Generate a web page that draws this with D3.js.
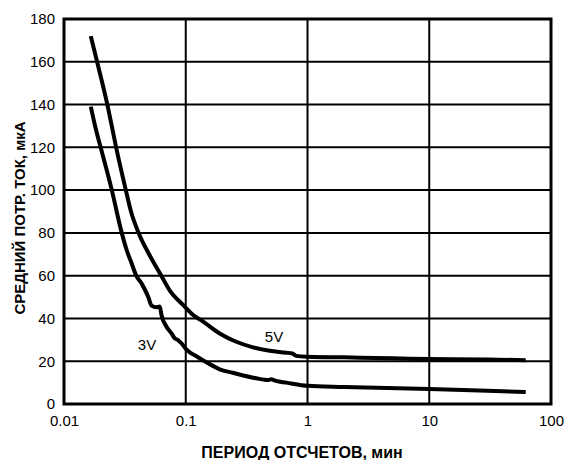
<!DOCTYPE html>
<html><head><meta charset="utf-8">
<script src="https://cdn.jsdelivr.net/npm/d3@7"></script>
<style>body{margin:0;background:#fff}svg{display:block}text{font-family:"Liberation Sans",Arial,sans-serif}</style>
</head><body><svg id="c" width="565" height="460"></svg>
<script>
const xTicks = [0.01, 0.1, 1, 10, 100];
const xTickLabels = ["0.01", "0.1", "1", "10", "100"];
const yTicks = [0, 20, 40, 60, 80, 100, 120, 140, 160, 180];
const seriesNames = ["5V", "3V"];
const x5V = [0.0166,0.0187,0.0227,0.0268,0.0322,0.0355,0.041,0.05,0.063,0.074,0.095,0.115,0.139,0.19,0.26,0.357,0.489,0.668,0.75,0.807,1,2,5,10,30,62];
const y5V = [172,160,140,120,100,90,80,70,60,53,46.3,41.6,38.5,33,29.1,26.5,24.9,24,23.6,22.5,22.1,21.8,21.4,21,20.8,20.5];
const x3V = [0.0166,0.018,0.020,0.0247,0.0298,0.0327,0.0359,0.0392,0.0433,0.0491,0.0524,0.0575,0.0612,0.0632,0.0695,0.0764,0.0813,0.0865,0.0922,0.101,0.125,0.148,0.19,0.243,0.38,0.48,0.5,0.55,0.67,1,2,10,30,62];
const y3V = [139,130,120,100,80,72,65.8,60,56.4,50.2,46,45.2,45.6,41.6,36.1,33,30.7,29.9,28.4,25.5,22,19.5,16.2,14.6,12,11.2,11.6,10.8,10,8.5,8,7,6.2,5.6];

const svg = d3.select("#c");
const L = 64, R = 551, T = 19, B = 404;
const x = d3.scaleLog().domain([0.01, 100]).range([L, R]);
const y = d3.scaleLinear().domain([0, 180]).range([B, T]);

// grid
svg.append("g").selectAll("line").data(xTicks.slice(1, -1)).join("line")
  .attr("x1", d => x(d)).attr("x2", d => x(d)).attr("y1", T).attr("y2", B)
  .attr("stroke", "#000").attr("stroke-width", 2);
svg.append("g").selectAll("line").data(yTicks.slice(1, -1)).join("line")
  .attr("x1", L).attr("x2", R).attr("y1", d => y(d)).attr("y2", d => y(d))
  .attr("stroke", "#000").attr("stroke-width", 2);
svg.append("rect").attr("x", L).attr("y", T).attr("width", R - L).attr("height", B - T)
  .attr("fill", "none").attr("stroke", "#000").attr("stroke-width", 3);

// axes (labels only)
const xAxis = d3.axisBottom(x).tickValues(xTicks).tickFormat((d, i) => xTickLabels[i]).tickSize(0).tickPadding(11);
const gx = svg.append("g").attr("transform", `translate(0,${B})`).call(xAxis);
gx.select(".domain").remove();
gx.selectAll("text").attr("font-size", 15).attr("fill", "#000").style("font-family", '"Liberation Sans",Arial,sans-serif');
const yAxis = d3.axisLeft(y).tickValues(yTicks).tickSize(0).tickPadding(9);
const gy = svg.append("g").attr("transform", `translate(${L},0)`).call(yAxis);
gy.select(".domain").remove();
gy.selectAll("text").attr("font-size", 15).attr("fill", "#000").style("font-family", '"Liberation Sans",Arial,sans-serif');

// curves
const line = d3.line().x(d => x(d[0])).y(d => y(d[1])).curve(d3.curveMonotoneX);
const data5 = x5V.map((v, i) => [v, y5V[i]]);
const data3 = x3V.map((v, i) => [v, y3V[i]]);
[data5, data3].forEach(d => svg.append("path").datum(d).attr("d", line)
  .attr("fill", "none").attr("stroke", "#000").attr("stroke-width", 4)
  .attr("stroke-linejoin", "round"));

// labels
svg.append("text").attr("x", 147).attr("y", 350).attr("text-anchor", "middle").attr("font-size", 15).text(seriesNames[1]);
svg.append("text").attr("x", 274).attr("y", 342).attr("text-anchor", "middle").attr("font-size", 15).text(seriesNames[0]);

svg.append("text").attr("x", 302).attr("y", 458).attr("text-anchor", "middle").attr("font-size", 16).attr("font-weight", "bold").text("ПЕРИОД ОТСЧЕТОВ, мин");
svg.append("text").attr("transform", "translate(25,218) rotate(-90)").attr("text-anchor", "middle").attr("font-size", 15).attr("font-weight", "bold").text("СРЕДНИЙ ПОТР. ТОК, мкА");
</script></body></html>
